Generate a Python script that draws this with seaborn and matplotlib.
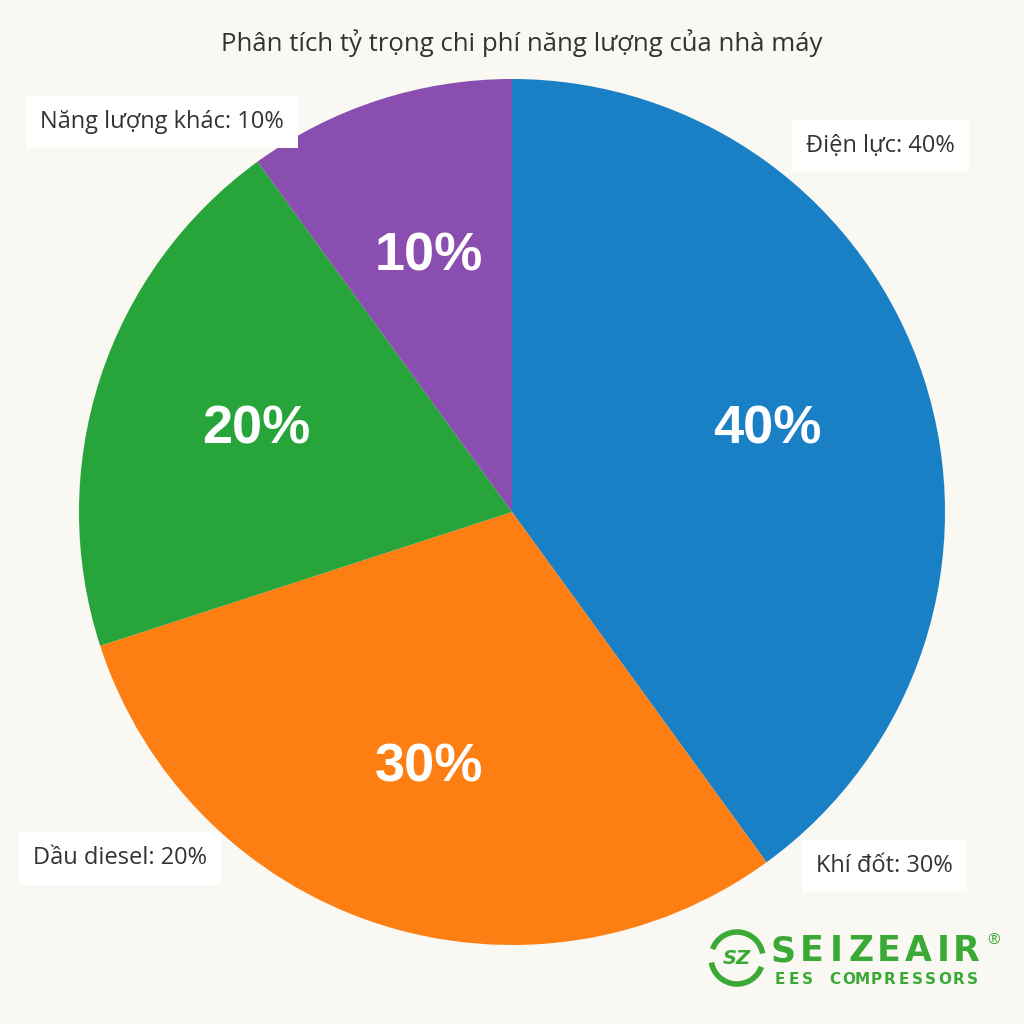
import matplotlib
matplotlib.use("Agg")
import matplotlib.pyplot as plt
import seaborn as sns
import numpy as np
from matplotlib.patches import Arc

sns.set_theme(style="white")
plt.rcParams['font.family'] = ['Open Sans', 'DejaVu Sans']

# ---- data ----
title = "Phân tích tỷ trọng chi phí năng lượng của nhà máy"
categories = ["Điện lực", "Khí đốt", "Dầu diesel", "Năng lượng khác"]
values = [40, 30, 20, 10]
colors = ["#1a80c6", "#fd7e12", "#27a53b", "#8a4db0"]

# layout: outside-label positions (pie radius units)
label_pos = [(0.85, 0.845), (0.86, -0.818), (-0.905, -0.80), (-0.808, 0.90)]

BG = "#f9f8f2"
fig = plt.figure(figsize=(10.24, 10.24), dpi=100, facecolor=BG)

# pie axes: centre (512,512) px, radius 433 px
r_px = 433
ax = fig.add_axes([(512 - r_px) / 1024, (512 - r_px) / 1024, 2 * r_px / 1024, 2 * r_px / 1024])
ax.set_facecolor("none")
wedges, texts, autotexts = ax.pie(
    values, colors=colors, startangle=90, counterclock=False,
    autopct=lambda p: f"{p:.0f}%", pctdistance=0.62, radius=1.0,
    wedgeprops=dict(linewidth=0),
    textprops=dict(color="white", fontsize=39, fontweight="bold",
                   family=["Liberation Sans", "DejaVu Sans"]))
ax.set_xlim(-1, 1)
ax.set_ylim(-1, 1)
ax.set_aspect("equal")
ax.axis("off")

for (cat, v), (lx, ly) in zip(zip(categories, values), label_pos):
    ax.text(lx, ly, f"{cat}: {v}%",
            ha="center", va="center", fontsize=17, color="#333333",
            bbox=dict(boxstyle="square,pad=0.6", fc="white", ec="none"),
            clip_on=False)

# overlay axes in pixel coordinates for title and logo
ov = fig.add_axes([0, 0, 1, 1])
ov.set_xlim(0, 1024)
ov.set_ylim(1024, 0)
ov.axis("off")
ov.patch.set_alpha(0)

ov.text(522, 43, title, ha="center", va="center", fontsize=18.5, color="#333333")

GREEN = "#3aa935"
# logo icon
ov.add_patch(Arc((737, 958), 52, 52, theta1=20, theta2=170, color=GREEN, lw=4))
ov.add_patch(Arc((737, 958), 52, 52, theta1=200, theta2=350, color=GREEN, lw=4))
ov.text(737, 959, "SZ", ha="center", va="center", fontsize=14, fontweight="bold",
        fontstyle="italic", color=GREEN, family=["DejaVu Sans"])
letters = "SEIZEAIR"
xs = [783, 812, 836, 861, 889, 918, 943, 966]
for ch, x in zip(letters, xs):
    ov.text(x, 951, ch, ha="center", va="center", fontsize=25, fontweight="bold",
            color=GREEN, family=["DejaVu Sans"])
ov.text(994, 940, "®", ha="center", va="center", fontsize=11, color=GREEN)
sub = "EES COMPRESSORS"
for ch, x in zip(sub, np.linspace(780, 972, len(sub))):
    ov.text(x, 980, ch, ha="center", va="center", fontsize=11, fontweight="bold",
            color=GREEN, family=["DejaVu Sans"])

fig.savefig("out.png", dpi=100, facecolor=BG)
